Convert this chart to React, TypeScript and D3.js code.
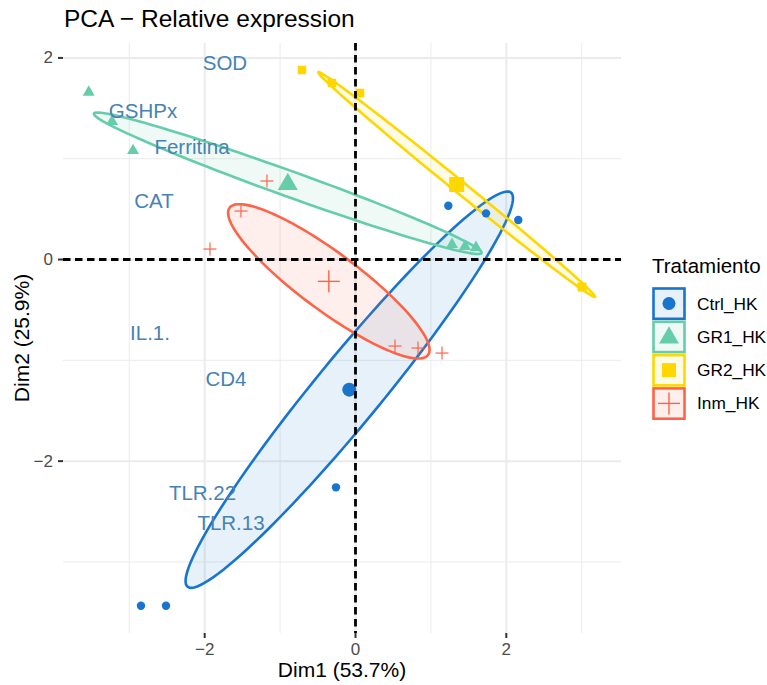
import React from 'react';
import * as d3 from 'd3';

// individuals (Dim1, Dim2)
const groups = ['Ctrl_HK', 'GR1_HK', 'GR2_HK', 'Inm_HK'];
const groupColors = ['#1874CD', '#66CDAA', '#FFD700', '#FF6347'];
const groupShapes = ['circle', 'triangle', 'square', 'cross'];

const ctrlX = [1.231, 1.731, 2.159, -0.259, -2.845, -2.513];
const ctrlY = [0.534, 0.458, 0.392, -2.26, -3.435, -3.435];
const gr1X = [-3.538, -3.229, -2.95, 1.28, 1.452, 1.598];
const gr1Y = [1.665, 1.374, 1.086, 0.154, 0.134, 0.124];
const gr2X = [-0.71, -0.312, 0.06, 3.004, 3.004, 3.004];
const gr2Y = [1.88, 1.751, 1.652, -0.273, -0.273, -0.273];
const inmX = [-1.174, -1.519, -1.93, 0.524, 0.829, 1.147];
const inmY = [0.779, 0.481, 0.104, -0.858, -0.878, -0.928];

const seriesX = [ctrlX, gr1X, gr2X, inmX];
const seriesY = [ctrlY, gr1Y, gr2Y, inmY];

// variable labels
const varNames = ['SOD', 'GSHPx', 'Ferritina', 'CAT', 'IL.1.', 'CD4', 'TLR.22', 'TLR.13'];
const varX = [-1.731, -2.818, -2.168, -2.672, -2.725, -1.717, -2.029, -1.651];
const varY = [1.959, 1.483, 1.126, 0.59, -0.719, -1.176, -2.316, -2.604];

const xTicks = [-2, 0, 2];
const yTicks = [-2, 0, 2];
const xMinor = [-3, -1, 1, 3];
const yMinor = [-3, -1, 1];

const FONT = '"Liberation Sans", Arial, Helvetica, sans-serif';
const W = 767;
const H = 685;
const panel = { left: 63, right: 621, top: 43, bottom: 633 };

const x = d3.scaleLinear().domain([-3.879, 3.521]).range([panel.left, panel.right]);
const y = d3.scaleLinear().domain([-3.705, 2.148]).range([panel.bottom, panel.top]);

const fmt = (v: number) => (v < 0 ? '\u2212' + Math.abs(v) : String(v));

// 95% confidence ellipse around the group mean
function ellipsePoints(xs: number[], ys: number[]) {
  const n = xs.length;
  const mx = d3.mean(xs) as number;
  const my = d3.mean(ys) as number;
  let sxx = 0, syy = 0, sxy = 0;
  for (let i = 0; i < n; i++) {
    sxx += (xs[i] - mx) ** 2;
    syy += (ys[i] - my) ** 2;
    sxy += (xs[i] - mx) * (ys[i] - my);
  }
  sxx /= n - 1; syy /= n - 1; sxy /= n - 1;
  const tr = sxx + syy;
  const det = sxx * syy - sxy * sxy;
  const disc = Math.sqrt(Math.max(0, (tr * tr) / 4 - det));
  const l1 = tr / 2 + disc;
  const l2 = Math.max(0, tr / 2 - disc);
  const ang = Math.atan2(l1 - sxx, sxy);
  const c = Math.sqrt(5.991 / n);
  const pts: [number, number][] = [];
  for (let k = 0; k < 120; k++) {
    const t = (k / 120) * Math.PI * 2;
    const a = c * Math.sqrt(l1) * Math.cos(t);
    const b = c * Math.sqrt(l2) * Math.sin(t);
    pts.push([mx + a * Math.cos(ang) - b * Math.sin(ang), my + a * Math.sin(ang) + b * Math.cos(ang)]);
  }
  return pts;
}

function Marker({ shape, cx, cy, color, big }: { shape: string; cx: number; cy: number; color: string; big?: boolean }) {
  if (shape === 'circle') return <circle cx={cx} cy={cy} r={big ? 7 : 4.2} fill={color} />;
  if (shape === 'triangle') {
    const path = d3.symbol().type(d3.symbolTriangle).size(big ? 175 : 62)();
    return <path d={path || ''} transform={`translate(${cx},${cy + (big ? 1 : 0.5)})`} fill={color} />;
  }
  if (shape === 'square') {
    const s = big ? 15 : 8.5;
    return <rect x={cx - s / 2} y={cy - s / 2} width={s} height={s} fill={color} />;
  }
  const h = big ? 11 : 6.5;
  return (
    <g stroke={color} strokeWidth={big ? 1.4 : 1.2}>
      <line x1={cx - h} x2={cx + h} y1={cy} y2={cy} />
      <line x1={cx} x2={cx} y1={cy - h} y2={cy + h} />
    </g>
  );
}

export default function App() {
  const line = d3.line<[number, number]>().x(d => x(d[0])).y(d => y(d[1])).curve(d3.curveLinearClosed);

  return (
    <svg width={W} height={H} style={{ display: 'block', position: 'absolute', left: 0, top: 0 }} fontFamily={FONT}>
      <rect width={W} height={H} fill="#fff" />
      {/* grid */}
      {xMinor.map(v => (
        <line key={'xm' + v} x1={x(v)} x2={x(v)} y1={panel.top} y2={panel.bottom} stroke="#EBEBEB" strokeWidth={1} />
      ))}
      {yMinor.map(v => (
        <line key={'ym' + v} y1={y(v)} y2={y(v)} x1={panel.left} x2={panel.right} stroke="#EBEBEB" strokeWidth={1} />
      ))}
      {xTicks.map(v => (
        <line key={'xg' + v} x1={x(v)} x2={x(v)} y1={panel.top} y2={panel.bottom} stroke="#EBEBEB" strokeWidth={2} />
      ))}
      {yTicks.map(v => (
        <line key={'yg' + v} y1={y(v)} y2={y(v)} x1={panel.left} x2={panel.right} stroke="#EBEBEB" strokeWidth={2} />
      ))}

      {/* ellipses */}
      {groups.map((g, i) => (
        <path key={'el' + g} d={line(ellipsePoints(seriesX[i], seriesY[i])) || ''} fill={groupColors[i]} fillOpacity={0.1}
          stroke={groupColors[i]} strokeWidth={2.6} />
      ))}

      {/* points */}
      {groups.map((g, i) => (
        <g key={'pt' + g}>
          {seriesX[i].map((vx, j) => (
            <Marker key={j} shape={groupShapes[i]} cx={x(vx)} cy={y(seriesY[i][j])} color={groupColors[i]} />
          ))}
          <Marker shape={groupShapes[i]} cx={x(d3.mean(seriesX[i]) as number)} cy={y(d3.mean(seriesY[i]) as number)}
            color={groupColors[i]} big />
        </g>
      ))}

      {/* variable labels */}
      {varNames.map((name, i) => (
        <text key={name} x={x(varX[i])} y={y(varY[i])} textAnchor="middle" dominantBaseline="central" fontSize={20.5} fill="#4682B4">
          {name}
        </text>
      ))}

      {/* zero lines */}
      <line x1={panel.left} x2={panel.right} y1={y(0)} y2={y(0)} stroke="#000" strokeWidth={2.8} strokeDasharray="7.5,4.5" />
      <line x1={x(0)} x2={x(0)} y1={panel.top} y2={panel.bottom} stroke="#000" strokeWidth={2.8} strokeDasharray="7.5,4.5" />

      {/* axes */}
      {xTicks.map(v => (
        <g key={'xt' + v}>
          <line x1={x(v)} x2={x(v)} y1={panel.bottom} y2={panel.bottom + 5} stroke="#333" strokeWidth={2} />
          <text x={x(v)} y={655} textAnchor="middle" fontSize={17} fill="#4D4D4D">{fmt(v)}</text>
        </g>
      ))}
      {yTicks.map(v => (
        <g key={'yt' + v}>
          <line x1={panel.left - 5} x2={panel.left} y1={y(v)} y2={y(v)} stroke="#333" strokeWidth={2} />
          <text x={53} y={y(v)} textAnchor="end" dominantBaseline="central" fontSize={17} fill="#4D4D4D">{fmt(v)}</text>
        </g>
      ))}
      <text x={(panel.left + panel.right) / 2} y={677} textAnchor="middle" fontSize={21} fill="#000">Dim1 (53.7%)</text>
      <text transform={`translate(29,${(panel.top + panel.bottom) / 2}) rotate(-90)`} textAnchor="middle" fontSize={21} fill="#000">
        Dim2 (25.9%)
      </text>

      {/* title */}
      <text x={64} y={27} fontSize={24.5} fill="#000">PCA − Relative expression</text>

      {/* legend */}
      <text x={652} y={273} fontSize={20.5} fill="#000">Tratamiento</text>
      {groups.map((g, i) => {
        const top = 287 + i * 33.3;
        const cx = 669;
        const cy = top + 16.5;
        return (
          <g key={'lg' + g}>
            <rect x={653.5} y={top + 1.5} width={31} height={30.3} fill="#fff" />
            <rect x={653.5} y={top + 1.5} width={31} height={30.3} fill={groupColors[i]} fillOpacity={0.1}
              stroke={groupColors[i]} strokeWidth={2.6} />
            {groupShapes[i] === 'circle' && <circle cx={cx} cy={cy} r={6.5} fill={groupColors[i]} />}
            {groupShapes[i] === 'triangle' && (
              <path d={d3.symbol().type(d3.symbolTriangle).size(170)() || ''} transform={`translate(${cx},${cy + 1})`} fill={groupColors[i]} />
            )}
            {groupShapes[i] === 'square' && <rect x={cx - 7} y={cy - 7} width={14} height={14} fill={groupColors[i]} />}
            {groupShapes[i] === 'cross' && (
              <g stroke={groupColors[i]} strokeWidth={1.4}>
                <line x1={cx - 11} x2={cx + 11} y1={cy} y2={cy} />
                <line x1={cx} x2={cx} y1={cy - 11} y2={cy + 11} />
              </g>
            )}
            <text x={697} y={cy} dominantBaseline="central" fontSize={17.3} fill="#000">{g}</text>
          </g>
        );
      })}
    </svg>
  );
}
